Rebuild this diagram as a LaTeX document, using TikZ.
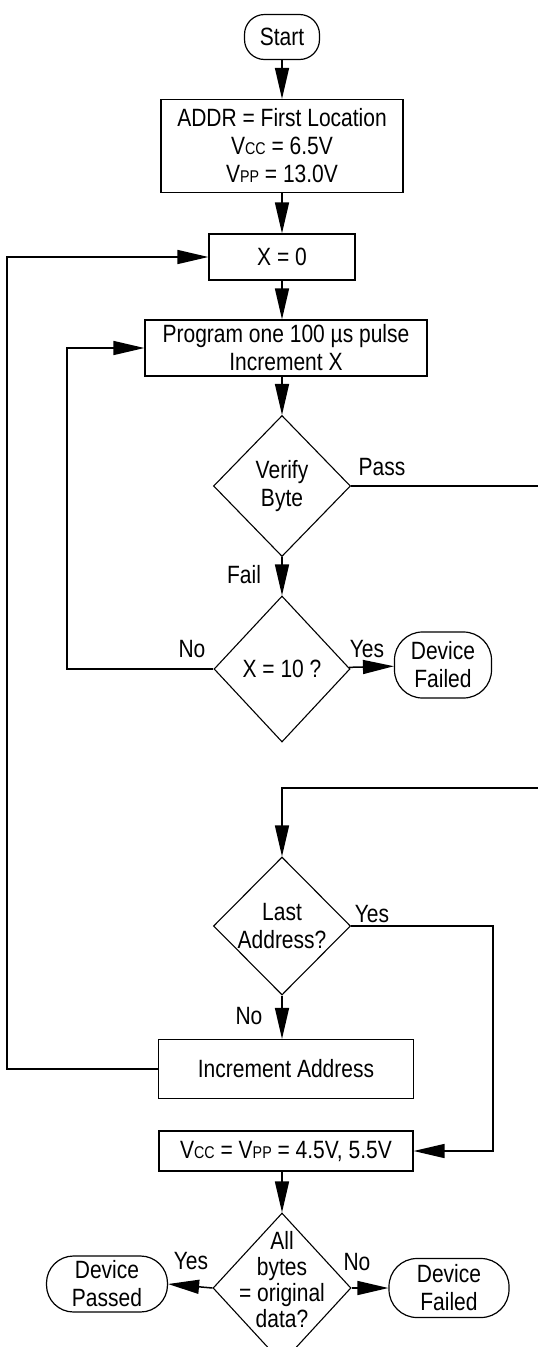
\documentclass[tikz,border=0pt]{standalone}
\usepackage{fontspec}
\setmainfont{Liberation Sans}[FakeStretch=0.84]
\usetikzlibrary{arrows.meta,shapes.geometric}
% reduced capitals used for the supply-pin names (Vcc, Vpp)
\newcommand\lowcap[1]{{\fontsize{17}{17}\selectfont #1}}
\begin{document}
\begin{tikzpicture}[x=1pt,y=-1pt,
  font=\fontsize{25}{28}\selectfont,
  box/.style={draw, line width=1.2pt, inner sep=0pt, align=center},
  term/.style={box, rounded corners=#1},
  decision/.style={draw, diamond, line width=1.1pt, inner sep=0pt},
  lbl/.style={inner sep=0pt},
  conn/.style={line width=1.5pt, -{Triangle[length=31pt,width=14pt]}},
  wire/.style={line width=1.5pt}]
\useasboundingbox (0,0) rectangle (538,1347);

% main column
\node[term=20pt, minimum width=75pt, minimum height=45pt] (start) at (282,37) {Start};
\node[box, minimum width=242pt, minimum height=93pt] (addr) at (282,146)
  {ADDR = First Location\\V\lowcap{CC} = 6.5V\\V\lowcap{PP} = 13.0V};
\node[box, minimum width=146pt, minimum height=46pt] (x0) at (282,257) {X = 0};
\node[box, minimum width=282pt, minimum height=56pt] (prog) at (286,348)
  {Program one 100 µs pulse\\Increment X};
\node[decision, minimum width=137pt, minimum height=141pt,
  label={[align=center]center:{Verify\\Byte}}] (verify) at (282,486) {};
\node[decision, minimum width=136pt, minimum height=146pt,
  label={center:{X = 10 ?}}] (x10) at (282,669) {};
\node[term=28pt, minimum width=97pt, minimum height=66pt] (fail1) at (443,665)
  {Device\\Failed};
\node[decision, minimum width=137pt, minimum height=138pt,
  label={[align=center]center:{Last\\Address?}}] (last) at (282,926) {};
\node[box, minimum width=255pt, minimum height=59pt] (incaddr) at (286,1069)
  {Increment Address};
\node[box, minimum width=254pt, minimum height=40pt] (vcc) at (286,1151)
  {V\lowcap{CC} = V\lowcap{PP} = 4.5V, 5.5V};
\node[decision, minimum width=138pt, minimum height=150pt,
  label={[align=center, yshift=8pt, font=\fontsize{25}{26}\selectfont]center:{All\\bytes\\= original\\data?}}]
  (all) at (282,1288) {};
\node[term=27pt, minimum width=121pt, minimum height=56pt] (passed) at (107,1284)
  {Device\\Passed};
\node[term=28pt, minimum width=120pt, minimum height=59pt] (fail2) at (449,1288)
  {Device\\Failed};

% branch labels
\node[lbl] (passLbl) at (382,467) {Pass};
\node[lbl] (failLbl) at (244,575) {Fail};
\node[lbl] (noLbl1) at (192,649) {No};
\node[lbl] (yesLbl1) at (367,649) {Yes};
\node[lbl] (yesLbl2) at (372,914) {Yes};
\node[lbl] (noLbl2) at (249,1016) {No};
\node[lbl] (yesLbl3) at (191,1261) {Yes};
\node[lbl] (noLbl3) at (357,1262) {No};

% routing points for the loop-back and bypass lines
\coordinate (railA) at (546,486);
\coordinate (railB) at (546,788);
\coordinate (innerRail) at (67,500);
\coordinate (outerRail) at (7,600);
\coordinate (yesRail) at (493,1000);

% straight flow
\draw[conn] (start) -- (addr);
\draw[conn] (addr) -- (x0);
\draw[conn] (x0.south) -- (x0.south |- prog.north);
\draw[conn] (prog.south -| verify.north) -- (verify.north);
\draw[conn] (verify) -- (x10);
\draw[conn] (x10) -- (fail1);
\draw[conn] (last) -- (incaddr.north -| last.south);
\draw[conn] (vcc.south -| all.north) -- (all.north);
\draw[conn] (all.west) -- (passed.east);
\draw[conn] (all.east) -- (fail2.west);

% verify passed: jump to address check
\draw[conn] (verify.east) -- (railA) -- (railB) -| (last.north);
% X < 10: apply another pulse
\draw[conn] (x10.west) -| (innerRail) |- (prog.west);
% next address: restart pulse count
\draw[conn] (incaddr.west) -| (outerRail) |- (x0.west);
% last address: final verify
\draw[conn] (last.east) -| (yesRail) |- (vcc.east);
\end{tikzpicture}
\end{document}
